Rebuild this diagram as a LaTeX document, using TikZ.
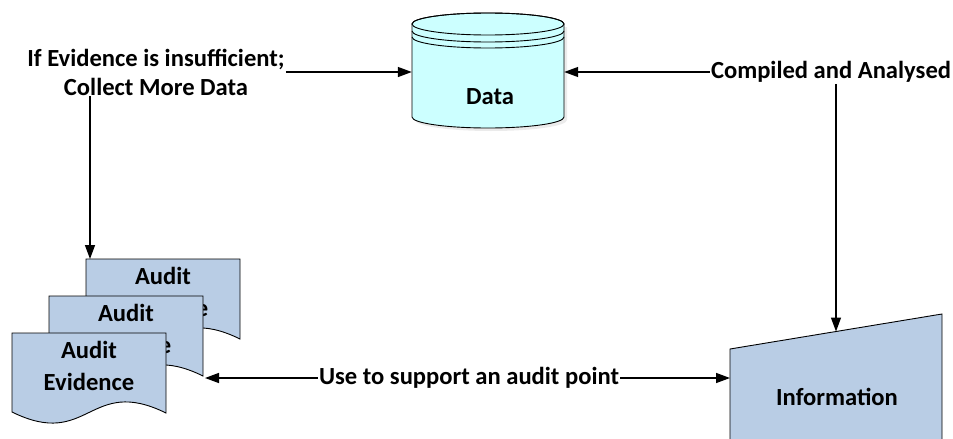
\documentclass[tikz,border=0pt]{standalone}
\usepackage{fontspec}
\setmainfont{Carlito}
\usetikzlibrary{arrows.meta,calc}
\definecolor{cylfill}{HTML}{CCFFFF}
\definecolor{docblue}{HTML}{B9CDE5}
\tikzset{
  lbl/.style={font=\bfseries\fontsize{24.6}{29}\selectfont, align=center, inner sep=1pt},
  doclbl/.style={font=\bfseries\fontsize{24.6}{32}\selectfont, align=center, inner sep=0pt},
  conn/.style={line width=1.4pt, -{Triangle[length=14pt,width=10pt]}},
  shp/.style={draw=black, line width=0.9pt},
}
\newcommand{\auditdoc}[3]{%
  \path[shp, fill=docblue] (#2,#3) -- ({#2+154},#3) -- ({#2+154},{#3+80})
    .. controls ({#2+77},{#3+42}) and ({#2+77},{#3+117}) .. (#2,{#3+79}) -- cycle;
  \node[doclbl] (#1) at ({#2+77},{#3+33}) {Audit\\Evidence};
}
\begin{document}
\begin{tikzpicture}[x=1pt,y=-1pt]
\useasboundingbox (0,0) rectangle (953,439);
\clip (0,0) rectangle (953,439);

% cylinder shadow
\path[fill=black!8] (415,27) -- (415,120) arc[start angle=180, end angle=360, x radius=76pt, y radius=11pt] -- (567,27) -- cycle;
% cylinder
\path[shp, fill=cylfill] (412,24) -- (412,117)
  arc[start angle=180, end angle=360, x radius=76pt, y radius=11pt]
  -- (564,24)
  arc[start angle=0, end angle=180, x radius=76pt, y radius=11pt] -- cycle;
\draw[shp] (488,24) ellipse [x radius=76pt, y radius=11pt];
\draw[shp] (412,31) arc[start angle=180, end angle=360, x radius=76pt, y radius=11pt];
\draw[shp] (412,37) arc[start angle=180, end angle=360, x radius=76pt, y radius=11pt];
\node[inner sep=0pt, minimum width=152pt, minimum height=115pt] (data) at (488,72) {};
\node[lbl] (datatxt) at (490,97) {Data};

% labels
\node[lbl] (lblL) at (156,72) {If Evidence is insufficient;\\Collect More Data};
\node[lbl] (lblR) at (831,72) {Compiled and Analysed};

% documents
\auditdoc{doc3}{86}{259}
\auditdoc{doc2}{49}{296}
\auditdoc{doc1}{12}{333}

% information
\path[shp, fill=docblue] (730,349) -- (942,314) -- (942,450) -- (730,450) -- cycle;
\node[lbl] (info) at (837,397) {Information};

% coordinates
\coordinate (docin) at (90,259);
\coordinate (docout) at (205,378);
\coordinate (infoin) at (836,331.5);
\coordinate (infoleft) at (730,378);

% connectors
\draw[conn] (lblL.east) -- (lblL.east -| data.west);
\draw[conn] (lblR.west) -- (lblR.west -| data.east);
\draw[conn] (docin |- lblL.south) -- (docin);
\draw[conn] (infoin |- lblR.south) -- (infoin);
\node[lbl] (mid) at (469,378) {Use to support an audit point};
\draw[conn] (mid.west) -- (docout);
\draw[conn] (mid.east) -- (infoleft);
\end{tikzpicture}
\end{document}
